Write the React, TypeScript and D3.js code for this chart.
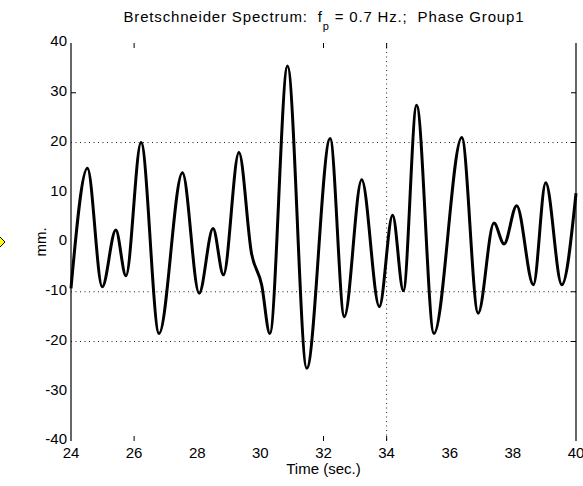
import React from "react";
import * as d3 from "d3";

// Extrema (and a few shoulder points)
const times = [24.0, 24.52, 24.99, 25.42, 25.74, 26.22, 26.79, 27.53, 28.06, 28.5, 28.83, 29.32, 29.72, 30.04, 30.3, 30.86, 31.47, 32.21, 32.66, 33.21, 33.77, 34.19, 34.53, 34.95, 35.5, 36.38, 36.9, 37.4, 37.72, 38.12, 38.65, 39.04, 39.55, 40.0];
const elevations = [-9.3, 14.8, -9.0, 2.4, -6.8, 20.0, -18.4, 13.9, -10.3, 2.7, -6.6, 18.0, -2.3, -8.6, -18.4, 35.4, -25.4, 20.8, -15.0, 12.5, -13.0, 5.4, -9.8, 27.5, -18.4, 21.0, -14.3, 3.8, -0.4, 7.3, -8.6, 11.9, -8.6, 9.8];

const xTickLabels = [24, 26, 28, 30, 32, 34, 36, 38, 40];
const yTickLabels = [40, 30, 20, 10, 0, -10, -20, -30, -40];
const xTickMarks = [26, 32, 34];
const yTickMarksLeft = [30];
const yTickMarksRight = [30, 20, -10, -20];
const yGrid = [20, -10, -20];
const xGrid = [34];

const W = 583;
const H = 486;
const left = 71;
const right = 576;
const top = 43;
const bottom = 441;

export default function App() {
  const x = d3.scaleLinear().domain([24, 40]).range([left, right]);
  const y = d3.scaleLinear().domain([-40, 40]).range([bottom, top]);
  const pts = times.map((t, i) => [t, elevations[i]] as [number, number]);
  const line = d3
    .line<[number, number]>()
    .x((d) => x(d[0]))
    .y((d) => y(d[1]))
    .curve(d3.curveMonotoneX);
  const font = "Arial, 'Liberation Sans', Helvetica, sans-serif";
  const tl = 5;
  const fs = 15;
  return (
    <svg
      width={W}
      height={H}
      style={{ position: "absolute", left: 0, top: 0, background: "#fff" }}
      fontFamily={font}
    >
      <rect x={0} y={0} width={W} height={H} fill="#fff" />
      {/* grid */}
      {yGrid.map((v) => (
        <line key={"gy" + v} x1={left} x2={right} y1={y(v)} y2={y(v)} stroke="#222" strokeWidth={1} strokeDasharray="1,3.5" />
      ))}
      {xGrid.map((v) => (
        <line key={"gx" + v} x1={x(v)} x2={x(v)} y1={top} y2={bottom} stroke="#222" strokeWidth={1} strokeDasharray="1,3.5" />
      ))}
      {/* axes lines */}
      <line x1={left} x2={left} y1={top} y2={bottom} stroke="#000" strokeWidth={1.2} />
      <line x1={right} x2={right} y1={top} y2={bottom} stroke="#000" strokeWidth={1.2} />
      {/* tick marks */}
      {xTickMarks.map((v) => (
        <g key={"xt" + v}>
          <line x1={x(v)} x2={x(v)} y1={top} y2={top + tl} stroke="#000" />
          <line x1={x(v)} x2={x(v)} y1={bottom} y2={bottom - tl} stroke="#000" />
        </g>
      ))}
      {yTickMarksLeft.map((v) => (
        <line key={"yl" + v} x1={left} x2={left + tl} y1={y(v)} y2={y(v)} stroke="#000" />
      ))}
      {yTickMarksRight.map((v) => (
        <line key={"yr" + v} x1={right} x2={right - tl} y1={y(v)} y2={y(v)} stroke="#000" />
      ))}
      {/* curve */}
      <path d={line(pts) || ""} fill="none" stroke="#000" strokeWidth={3} strokeLinejoin="round" />
      {/* tick labels */}
      {yTickLabels.map((v) => (
        <text key={"yl" + v} x={left - 4} y={y(v) - 2} dy="0.35em" textAnchor="end" fontSize={fs} fill="#000">
          {v}
        </text>
      ))}
      {xTickLabels.map((v) => (
        <text key={"xl" + v} x={x(v)} y={458} textAnchor="middle" fontSize={fs} fill="#000">
          {v}
        </text>
      ))}
      <text x={(left + right) / 2} y={474} textAnchor="middle" fontSize={fs} fill="#000">
        Time (sec.)
      </text>
      <text transform={`translate(46,${(top + bottom) / 2}) rotate(-90)`} textAnchor="middle" fontSize={fs} fill="#000">
        mm.
      </text>
      <text x={(left + right) / 2} y={22} textAnchor="middle" fontSize={15} fill="#000" xmlSpace="preserve" textLength={400}>
        <tspan>{"Bretschneider Spectrum:  f"}</tspan>
        <tspan dy={8} fontSize={11}>p</tspan>
        <tspan dy={-8}>{" = 0.7 Hz.;  Phase Group1"}</tspan>
      </text>
      {/* small marker at left edge */}
      <path d={`M0,${242 - 5}L5,242L0,${242 + 5}L-5,242Z`} fill="#ff0" stroke="#000" strokeWidth={1} />
    </svg>
  );
}
